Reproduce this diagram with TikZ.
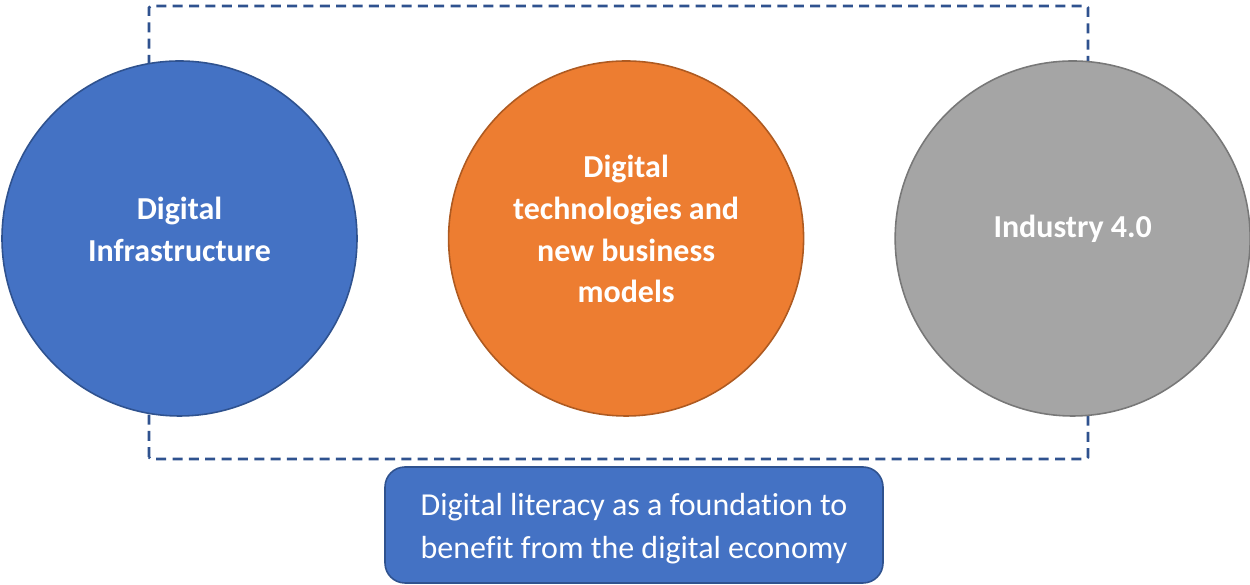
\documentclass[tikz,border=0pt]{standalone}
\usepackage{fontspec}
\setmainfont{Carlito}[Ligatures=NoCommon]
\usetikzlibrary{positioning}
\definecolor{infblue}{HTML}{4472C4}
\definecolor{infblueline}{HTML}{2F528F}
\definecolor{techorange}{HTML}{ED7D31}
\definecolor{techorangeline}{HTML}{AE5A21}
\definecolor{indgray}{HTML}{A5A5A5}
\definecolor{indgrayline}{HTML}{787878}
\tikzstyle{pillar}=[circle,minimum size=7.1cm,line width=0.9pt]
\tikzstyle{pillartext}=[text=white,align=center,font=\fontsize{18.2}{23.8}\selectfont\bfseries]
\tikzstyle{basebox}=[rectangle,rounded corners=0.4cm,minimum width=9.96cm,minimum height=2.32cm,fill=infblue,draw=infblueline,line width=0.9pt]
\tikzstyle{basetext}=[text=white,align=center,font=\fontsize{18.2}{24.4}\selectfont]

\begin{document}
\begin{tikzpicture}
	\useasboundingbox (0,0) rectangle (25,11.7);
	% frame behind the three pillars
	\draw[infblueline,line width=1.5pt,dash pattern=on 5.7pt off 3.6pt,rounded corners=1pt] (2.98,2.52) rectangle (21.76,11.58);
	\node[pillar,fill=infblue,draw=infblueline] (infra) at (3.59,6.93) {};
	\node[pillar,fill=techorange,draw=techorangeline,right=1.8cm of infra] (tech) {};
	\node[pillar,fill=indgray,draw=indgrayline,right=1.8cm of tech] (ind) {};
	\node[pillartext] (infralabel) at ([yshift=0.19cm]infra.center) {Digital\\Infrastructure};
	\node[pillartext] (techlabel) at ([yshift=0.19cm]tech.center) {Digital\\technologies and\\new business\\models};
	\node[pillartext] (indlabel) at ([yshift=0.19cm]ind.center) {Industry 4.0};
	\node[basebox] (literacy) at (12.68,1.2) {};
	\node[basetext] (literacylabel) at ([yshift=-0.08cm]literacy.center) {Digital literacy as a foundation to\\benefit from the digital economy};
\end{tikzpicture}
\end{document}
